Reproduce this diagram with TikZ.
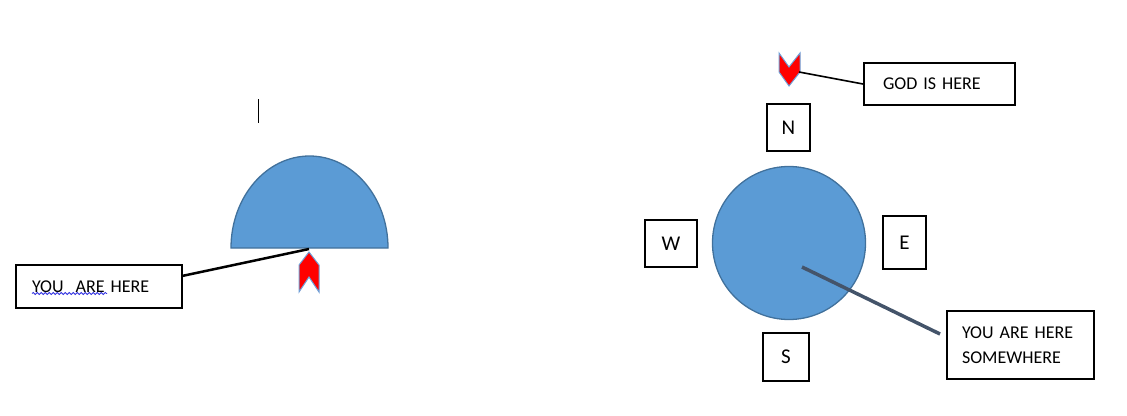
\documentclass[tikz,border=0pt]{standalone}
\usepackage{fontspec}
\setmainfont{Carlito}
\usetikzlibrary{decorations.pathmorphing}
\definecolor{shapeblue}{HTML}{5B9BD5}
\definecolor{shapeedge}{HTML}{41719C}
\definecolor{chevedge}{HTML}{6FA0D8}
\definecolor{slateline}{HTML}{44546A}
\definecolor{spellblue}{HTML}{3030E0}
\begin{document}
\begin{tikzpicture}[x=1pt,y=-1pt,
  labelbox/.style={draw=black, line width=2pt, fill=white, inner ysep=0pt, align=left, font=\fontsize{18}{25}\selectfont, anchor=center},
  letterbox/.style={draw=black, line width=2pt, fill=white, inner sep=0pt, font=\fontsize{21}{24}\selectfont},
  bluefill/.style={fill=shapeblue, draw=shapeedge, line width=1.3pt},
  chevron/.style={fill=red, draw=chevedge, line width=1pt, line join=miter},
  connector/.style={draw=black, line width=2.5pt}
]
\useasboundingbox (0,0) rectangle (1127,415);

% cursor mark
\draw[line width=1pt] (258.5,99) -- (258.5,123);

% left half disk
\path[bluefill] (231,248) arc[start angle=180, end angle=0, x radius=78.5pt, y radius=92pt] -- cycle;
\coordinate (halfbase) at (309,249);

% left chevron (up)
\path[chevron] (309,252) -- (319,265) -- (319,292) -- (309,277) -- (299,292) -- (299,265) -- cycle;

% left label
\node[labelbox, minimum width=166pt, minimum height=43pt, text width=134pt, inner xsep=16pt] (youhere) at (99,286.5) {YOU~~ARE HERE};
\coordinate (youout) at (182,276);
\draw[connector] (youout) -- (halfbase);
\draw[spellblue, line width=0.8pt, decorate, decoration={snake, amplitude=1pt, segment length=4pt}] (32,293.5) -- (107,293.5);

% right: top chevron (down)
\path[chevron] (779,53) -- (789,67) -- (800,53) -- (800,72) -- (789,86) -- (779,72) -- cycle;
\coordinate (godtip) at (799,72);
\node[labelbox, minimum width=151pt, minimum height=42pt, text width=113pt, inner xsep=19pt] (god) at (939.5,84) {GOD IS HERE};
\draw[line width=1.6pt] (godtip) -- (god.west);

% compass boxes
\node[letterbox, minimum width=43pt, minimum height=47pt] (north) at (788.5,127.5) {N};
\node[letterbox, minimum width=52pt, minimum height=47pt] (west) at (671,243.5) {W};
\node[letterbox, minimum width=43pt, minimum height=53pt] (east) at (904.5,242.5) {E};
\node[letterbox, minimum width=46pt, minimum height=48pt] (south) at (786,357) {S};

% globe
\node[circle, bluefill, minimum size=153pt, inner sep=0pt] (globe) at (789,243) {};
\coordinate (inside) at (802,267);

% somewhere label
\node[labelbox, minimum width=147pt, minimum height=68pt, text width=117pt, inner xsep=15pt] (somewhere) at (1020.5,345) {YOU ARE HERE\\SOMEWHERE};
\coordinate (somein) at (940,334);
\draw[slateline, line width=3.5pt] (inside) -- (somein);
\end{tikzpicture}
\end{document}
